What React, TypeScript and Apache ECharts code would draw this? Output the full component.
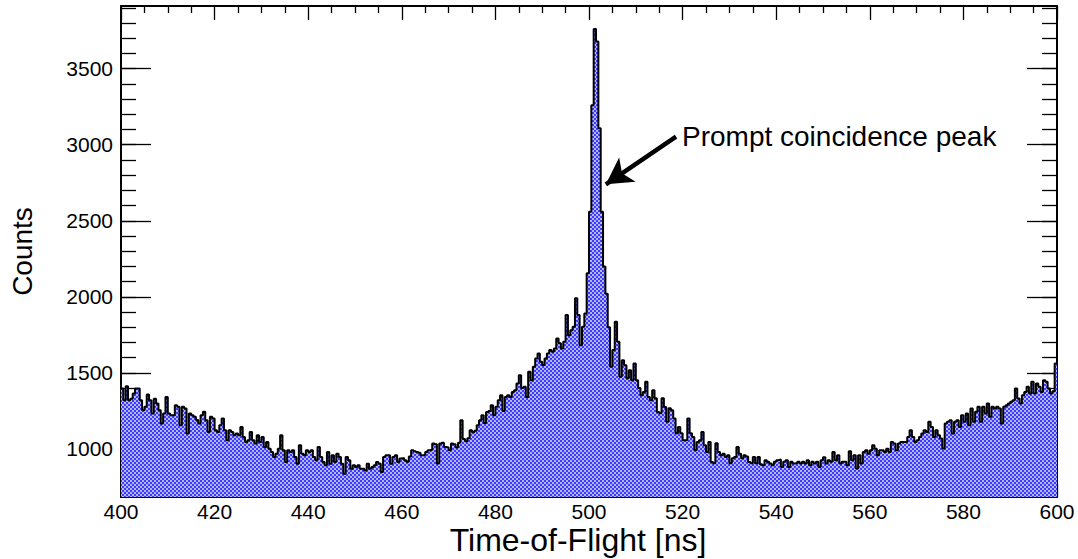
import React, { useEffect, useRef } from 'react';
import * as echarts from 'echarts';

const xMin = 400;
const xMax = 600;
const xInterval = 20;
const binWidth = 0.5;
const yMin = 684;
const yMax = 3912;
const yMajorTicks = [1000, 1500, 2000, 2500, 3000, 3500];
const yMinorTicks = [700, 800, 900, 1000, 1100, 1200, 1300, 1400, 1500, 1600, 1700, 1800, 1900, 2000, 2100, 2200, 2300, 2400, 2500, 2600, 2700, 2800, 2900, 3000, 3100, 3200, 3300, 3400, 3500, 3600, 3700, 3800, 3900];
const xTitle = 'Time-of-Flight [ns]';
const yTitle = 'Counts';
const annotationText = 'Prompt coincidence peak';
const arrowFrom = [518.6, 3053];
const arrowTo = [503.6, 2740];

// bin contents, 0.5 ns bins from 400 to 600 ns
const counts: number[] = [
  // 400.0 - 409.5
  1397, 1320, 1412, 1320, 1330, 1364, 1397, 1397, 1320, 1255, 1277, 1358, 1320, 1233, 1330, 1298, 1255, 1167, 1233, 1342,
  // 410.0 - 419.5
  1233, 1222, 1222, 1288, 1277, 1156, 1277, 1266, 1101, 1233, 1222, 1211, 1190, 1167, 1222, 1244, 1189, 1112, 1211, 1200,
  // 420.0 - 429.5
  1123, 1112, 1156, 1200, 1123, 1057, 1123, 1112, 1090, 1101, 1090, 1145, 1079, 1046, 1057, 1112, 1057, 1035, 1090, 1046,
  // 430.0 - 439.5
  1079, 1013, 1046, 1002, 980, 947, 969, 1002, 1090, 991, 914, 991, 980, 991, 947, 903, 1024, 969, 958, 991,
  // 440.0 - 449.5
  980, 991, 947, 925, 1013, 947, 914, 892, 980, 903, 958, 914, 969, 947, 903, 837, 947, 925, 870, 892,
  // 450.0 - 459.5
  881, 892, 870, 870, 859, 903, 870, 881, 892, 914, 903, 848, 947, 958, 958, 903, 947, 958, 914, 937,
  // 460.0 - 469.5
  940, 925, 915, 950, 991, 985, 980, 975, 958, 960, 980, 991, 995, 1035, 1030, 904, 1035, 1040, 1013, 1010,
  // 470.0 - 479.5
  991, 1035, 1030, 1010, 1040, 1189, 1065, 1050, 1070, 1123, 1110, 1120, 1156, 1189, 1222, 1170, 1243, 1250, 1288, 1222,
  // 480.0 - 489.5
  1277, 1320, 1353, 1250, 1342, 1353, 1342, 1375, 1386, 1430, 1485, 1400, 1408, 1342, 1507, 1452, 1540, 1595, 1628, 1573,
  // 490.0 - 499.5
  1551, 1595, 1628, 1650, 1639, 1661, 1726, 1694, 1661, 1705, 1880, 1748, 1781, 1803, 1990, 1880, 1682, 1803, 1891, 2155,
  // 500.0 - 509.5
  2560, 3260, 3760, 3678, 3108, 2560, 2200, 2020, 1800, 1540, 1650, 1836, 1704, 1474, 1583, 1550, 1465, 1517, 1452, 1562,
  // 510.0 - 519.5
  1452, 1400, 1353, 1375, 1441, 1342, 1320, 1386, 1333, 1243, 1234, 1333, 1276, 1178, 1268, 1255, 1200, 1103, 1145, 1103,
  // 520.0 - 529.5
  1057, 1057, 1200, 1103, 1079, 991, 1046, 1057, 1112, 1024, 980, 1046, 914, 906, 1037, 980, 958, 969, 947, 958,
  // 530.0 - 539.5
  906, 938, 947, 1013, 969, 938, 958, 950, 914, 906, 947, 906, 947, 900, 893, 926, 915, 904, 893, 915,
  // 540.0 - 549.5
  926, 930, 881, 915, 926, 881, 915, 904, 908, 915, 904, 915, 904, 926, 893, 915, 904, 915, 881, 926,
  // 550.0 - 559.5
  945, 904, 926, 915, 980, 926, 958, 904, 915, 915, 893, 985, 926, 958, 871, 958, 904, 980, 991, 969,
  // 560.0 - 569.5
  991, 1024, 1002, 958, 991, 991, 980, 1002, 980, 1046, 1035, 991, 1035, 1046, 1046, 1046, 1079, 1123, 1079, 1046,
  // 570.0 - 579.5
  1057, 1079, 1101, 1123, 1112, 1178, 1145, 1079, 1123, 1090, 1068, 1003, 1167, 1178, 1189, 1101, 1178, 1189, 1145, 1222,
  // 580.0 - 589.5
  1178, 1233, 1156, 1266, 1178, 1244, 1277, 1178, 1277, 1233, 1299, 1211, 1277, 1266, 1277, 1266, 1167, 1277, 1288, 1299,
  // 590.0 - 599.5
  1310, 1320, 1397, 1332, 1299, 1353, 1375, 1408, 1364, 1441, 1364, 1430, 1408, 1375, 1452, 1441, 1397, 1364, 1380, 1562,
];

const FONT = '"Liberation Sans", Arial, Helvetica, sans-serif';

function makePattern() {
  const c = document.createElement('canvas');
  c.width = 4;
  c.height = 4;
  const ctx = c.getContext('2d')!;
  ctx.fillStyle = '#b4b4ff';
  ctx.fillRect(0, 0, 4, 4);
  ctx.fillStyle = '#3c3cff';
  ctx.fillRect(0, 0, 2, 2);
  ctx.fillRect(2, 2, 2, 2);
  return c;
}

export default function App() {
  const ref = useRef<HTMLDivElement>(null);

  useEffect(() => {
    document.body.style.margin = '0';
    if (!ref.current) return;
    const chart = echarts.init(ref.current, undefined, { renderer: 'svg' });

    const data: number[][] = counts.map((c, i) => [xMin + i * binWidth, c]);
    data.push([xMax, counts[counts.length - 1]]);

    const pattern = makePattern();

    const tickStyle = { color: '#000', width: 1.3 };
    const baseX = {
      type: 'value' as const,
      min: xMin,
      max: xMax,
      interval: xInterval,
      splitLine: { show: false },
      axisLine: { show: true, onZero: false, lineStyle: { color: '#000', width: 2 } },
      axisTick: { show: true, inside: true, length: 14, lineStyle: tickStyle },
      minorTick: { show: true, splitNumber: 4, length: 7, lineStyle: tickStyle },
    };
    const baseY = {
      type: 'value' as const,
      min: yMin,
      max: yMax,
      splitLine: { show: false },
    };

    chart.setOption({
      animation: false,
      grid: { left: 121, right: 21, top: 6, bottom: 62, containLabel: false },
      xAxis: [
        {
          ...baseX,
          position: 'bottom',
          axisLabel: { show: true, margin: 4, fontSize: 21, fontFamily: FONT, color: '#000' },
        },
        {
          ...baseX,
          position: 'top',
          axisLabel: { show: false },
        },
      ],
      yAxis: [
        {
          ...baseY,
          position: 'left',
          name: yTitle,
          nameLocation: 'middle',
          nameGap: 85,
          nameTextStyle: { fontSize: 28, fontFamily: FONT, color: '#000' },
          axisLine: { show: true, onZero: false, lineStyle: { color: '#000', width: 2 } },
          axisTick: { show: true, inside: true, length: 30, customValues: yMajorTicks, lineStyle: tickStyle },
          axisLabel: {
            show: true,
            margin: 8,
            fontSize: 21,
            fontFamily: FONT,
            color: '#000',
            customValues: yMajorTicks,
            formatter: (v: number) => String(v),
          },
        },
        {
          ...baseY,
          position: 'left',
          offset: 0,
          axisLine: { show: false },
          axisTick: { show: true, inside: true, length: 15, customValues: yMinorTicks, lineStyle: tickStyle },
          axisLabel: { show: false },
        },
        {
          ...baseY,
          position: 'right',
          offset: 0,
          axisLine: { show: true, onZero: false, lineStyle: { color: '#000', width: 2 } },
          axisTick: { show: true, inside: true, length: 30, customValues: yMajorTicks, lineStyle: tickStyle },
          axisLabel: { show: false },
        },
        {
          ...baseY,
          position: 'right',
          offset: 0,
          axisLine: { show: false },
          axisTick: { show: true, inside: true, length: 15, customValues: yMinorTicks, lineStyle: tickStyle },
          axisLabel: { show: false },
        },
      ],
      series: [
        {
          type: 'line',
          xAxisIndex: 0,
          yAxisIndex: 0,
          data,
          step: 'end',
          symbol: 'none',
          silent: true,
          clip: true,
          lineStyle: { color: '#000', width: 2 },
          areaStyle: {
            origin: 'start',
            opacity: 1,
            color: { image: pattern, repeat: 'repeat', imageWidth: 4, imageHeight: 4 } as any,
          },
          markLine: {
            silent: true,
            animation: false,
            symbol: ['none', 'arrow'],
            symbolSize: [22, 26],
            label: { show: false },
            lineStyle: { color: '#000', width: 4.5, type: 'solid' },
            emphasis: { disabled: true },
            data: [[{ coord: arrowFrom }, { coord: arrowTo }]],
          },
          z: 2,
        },
      ],
      graphic: [
        {
          type: 'text',
          x: 682,
          y: 136,
          style: {
            text: annotationText,
            fontSize: 28,
            fontFamily: FONT,
            fill: '#000',
            verticalAlign: 'middle',
            align: 'left',
          },
        },
        {
          type: 'text',
          x: 578,
          y: 540,
          style: {
            text: xTitle,
            fontSize: 32,
            fontFamily: FONT,
            fill: '#000',
            verticalAlign: 'middle',
            align: 'center',
          },
        },
      ],
    });

    return () => {
      chart.dispose();
    };
  }, []);

  return <div ref={ref} style={{ width: 1078, height: 559 }} />;
}
